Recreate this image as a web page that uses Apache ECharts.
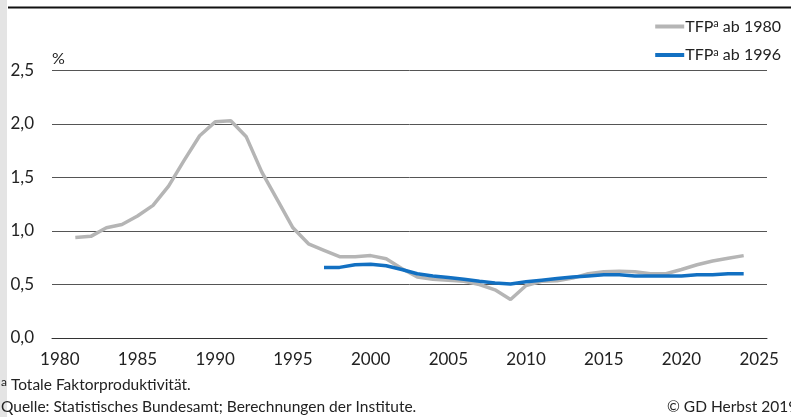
<!DOCTYPE html>
<html>
<head>
<meta charset="utf-8">
<script src="https://cdn.jsdelivr.net/npm/echarts@6/dist/echarts.min.js"></script>
<style>html,body{margin:0;padding:0;background:#fff}#c{width:791px;height:417px}</style>
</head>
<body>
<div id="c"></div>
<script>
const years = [];
for (let y = 1980; y <= 2025; y++) years.push(String(y));

// TFP growth, % (trend)
const tfp1980 = [null,
  0.94, 0.95, 1.03, 1.06, 1.14, 1.24, 1.42, 1.66, 1.89, 2.02,
  2.03, 1.88, 1.55, 1.29, 1.03, 0.88, 0.82, 0.76, 0.76, 0.77,
  0.74, 0.65, 0.57, 0.55, 0.54, 0.53, 0.50, 0.45, 0.36, 0.49,
  0.53, 0.535, 0.56, 0.60, 0.62, 0.625, 0.62, 0.60, 0.60, 0.64,
  0.685, 0.72, 0.745, 0.77, null];

const tfp1996 = [null,
  null, null, null, null, null, null, null, null, null, null,
  null, null, null, null, null, null, 0.66, 0.66, 0.685, 0.69,
  0.675, 0.64, 0.60, 0.58, 0.565, 0.55, 0.53, 0.515, 0.505, 0.525,
  0.54, 0.555, 0.57, 0.58, 0.59, 0.59, 0.58, 0.58, 0.58, 0.58,
  0.59, 0.59, 0.60, 0.60, null];

const yTicks = { min: 0, max: 2.5, interval: 0.5 };
const seriesNames = ['TFP\u1D43 ab 1980', 'TFP\u1D43 ab 1996'];
const FONT = 'Lato';

const chart = echarts.init(document.getElementById('c'), null, { renderer: 'canvas' });
chart.setOption({
  animation: false,
  textStyle: { fontFamily: FONT, color: '#222' },
  grid: { left: 52, right: 24, top: 70.5, bottom: 79, containLabel: false },
  legend: {
    orient: 'vertical', right: 5, top: 13, itemGap: 12,
    itemWidth: 29, itemHeight: 14,
    icon: 'path://M0,0 L29,0 L29,4 L0,4 Z',
    textStyle: { fontFamily: FONT, fontSize: 16, color: '#222', padding: [0, 0, 0, -4],
      rich: {
        n: { fontSize: 16, fontFamily: FONT, color: '#222' },
        s: { fontSize: 11, fontFamily: FONT, color: '#222', padding: [0, 0, 6, 0] }
      } },
    formatter: function (n) {
      const parts = n.split('\u1D43');
      return '{n|' + parts[0] + '}{s|a}{n|' + parts[1] + '}';
    },
    data: seriesNames
  },
  xAxis: {
    type: 'category', data: years, boundaryGap: true,
    axisLine: { lineStyle: { color: '#333', width: 1 } },
    axisTick: { interval: 0, length: 5, lineStyle: { color: '#333' } },
    axisLabel: { interval: 4, margin: 13, fontSize: 17, color: '#222', fontFamily: FONT },
    splitLine: { show: false }
  },
  yAxis: {
    type: 'value', min: yTicks.min, max: yTicks.max, interval: yTicks.interval,
    name: '%', nameLocation: 'end', nameGap: 4,
    nameTextStyle: { align: 'left', fontSize: 16, color: '#222', fontFamily: FONT },
    axisLine: { show: false }, axisTick: { show: false },
    axisLabel: { margin: 18, fontSize: 17, color: '#222', fontFamily: FONT,
      formatter: v => v.toFixed(1).replace('.', ',') },
    splitLine: { lineStyle: { color: '#555', width: 1 } }
  },
  series: [
    { name: seriesNames[0], type: 'line', data: tfp1980, symbol: 'none',
      lineStyle: { color: '#b5b5b5', width: 3.5 }, itemStyle: { color: '#b5b5b5' }, z: 2 },
    { name: seriesNames[1], type: 'line', data: tfp1996, symbol: 'none',
      lineStyle: { color: '#1270c2', width: 3.5 }, itemStyle: { color: '#1270c2' }, z: 3 }
  ],
  graphic: [
    { type: 'rect', left: 0, top: 0, shape: { width: 7, height: 417 }, style: { fill: '#e4e4e4' }, silent: true },
    { type: 'rect', left: 8, top: 6.5, shape: { width: 783, height: 2 }, style: { fill: '#111' }, silent: true },
    { type: 'text', left: 1, top: 376, style: {
        text: '{s|a} Totale Faktorproduktivität.',
        rich: { s: { fontSize: 12, fontFamily: FONT, fill: '#222', padding: [0, 0, 5, 0] } },
        fontSize: 15.5, fontFamily: FONT, fill: '#222' } },
    { type: 'text', left: 1, top: 399, style: {
        text: 'Quelle: Statistisches Bundesamt; Berechnungen der Institute.',
        fontSize: 15.5, fontFamily: FONT, fill: '#222' } },
    { type: 'text', left: 667, top: 399, style: {
        text: '© GD Herbst 2019', fontSize: 15.5, fontFamily: FONT, fill: '#222' } }
  ]
});
</script>
</body>
</html>
